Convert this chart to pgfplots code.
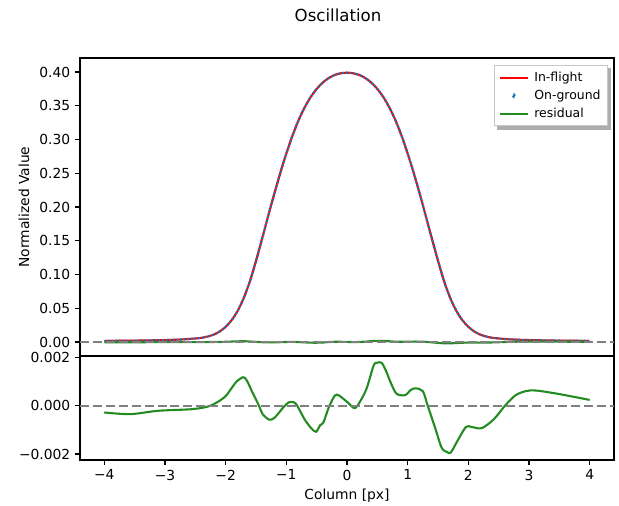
\documentclass[border=0pt]{standalone}
\usepackage{fontspec}
\setmainfont{DejaVu Sans}
\usepackage{pgfplots}
\usepackage{pgfplotstable}
\pgfplotsset{compat=1.18}
\definecolor{mplblue}{HTML}{1F77B4}
\definecolor{fgreen}{HTML}{228B22}
\definecolor{mplred}{HTML}{FF0000}
\pgfdeclarelayer{bg}
\pgfsetlayers{bg,main}

\pgfplotstableread{
x y
-4.0 0.0017
-3.5 0.0021
-3.0 0.0029
-2.8 0.0035
-2.6 0.0045
-2.4 0.0062
-2.3 0.0080
-2.2 0.0108
-2.1 0.0155
-2.0 0.0225
-1.9 0.0325
-1.8 0.0465
-1.7 0.0655
-1.6 0.0901
-1.5 0.1201
-1.4 0.1529
-1.3 0.1862
-1.2 0.2189
-1.1 0.2501
-1.0 0.2791
-0.9 0.3053
-0.8 0.3281
-0.7 0.3471
-0.6 0.3626
-0.5 0.3749
-0.4 0.3843
-0.3 0.3911
-0.2 0.3956
-0.1 0.3981
0.0 0.3989
0.1 0.3981
0.2 0.3956
0.3 0.3911
0.4 0.3843
0.5 0.3749
0.6 0.3626
0.7 0.3471
0.8 0.3281
0.9 0.3053
1.0 0.2791
1.1 0.2501
1.2 0.2189
1.3 0.1862
1.4 0.1529
1.5 0.1201
1.6 0.0901
1.7 0.0655
1.8 0.0465
1.9 0.0325
2.0 0.0225
2.1 0.0155
2.2 0.0108
2.3 0.0080
2.4 0.0062
2.6 0.0045
2.8 0.0035
3.0 0.0029
3.5 0.0021
4.0 0.0017
}\profile

\pgfplotstableread{
x r
-4.00 -0.00028
-3.57 -0.00035
-3.11 -0.00021
-2.54 -0.00014
-2.25 0.00000
-2.02 0.00035
-1.91 0.00070
-1.82 0.00100
-1.71 0.00118
-1.65 0.00104
-1.56 0.00056
-1.45 0.00000
-1.39 -0.00035
-1.28 -0.00058
-1.19 -0.00049
-1.05 -0.00007
-0.96 0.00014
-0.875 0.00014
-0.82 0.00000
-0.70 -0.00056
-0.59 -0.00093
-0.51 -0.00108
-0.44 -0.00080
-0.39 -0.00070
-0.30 -0.00007
-0.20 0.00042
-0.13 0.00042
0.01 0.00014
0.13 -0.00010
0.24 0.00028
0.33 0.00076
0.44 0.00167
0.50 0.00178
0.57 0.00178
0.64 0.00146
0.73 0.00090
0.82 0.00049
0.96 0.00044
1.05 0.00065
1.13 0.00072
1.25 0.00060
1.33 0.00000
1.45 -0.00090
1.56 -0.00174
1.65 -0.00192
1.71 -0.00194
1.82 -0.00146
1.96 -0.00088
2.05 -0.00088
2.22 -0.00093
2.42 -0.00056
2.59 -0.00004
2.77 0.00042
2.94 0.00060
3.11 0.00063
3.48 0.00049
4.00 0.00024
}\resid

\pgfplotsset{
  mplaxis/.style={
    scale only axis,
    anchor=south west,
    width=384.48bp,
    xmin=-4.4, xmax=4.4,
    axis line style={line width=0.8bp},
    tick align=outside,
    tick pos=left,
    major tick length=3.5bp,
    every tick/.style={black, line width=0.8bp},
    tick label style={font=\fontsize{10}{12}\selectfont},
    scaled ticks=false,
    clip=true,
  },
  zeroline/.style={gray, line width=1.5bp, dash pattern=on 6.5bp off 2.8bp, forget plot},
}

\begin{document}
\begin{tikzpicture}
\path[use as bounding box] (0,0) rectangle (445.68bp,364.32bp);
\node[font=\fontsize{12}{14}\selectfont, anchor=center] at (243.4bp,353.5bp) {Oscillation};

\begin{axis}[mplaxis,
  at={(57.6bp,108bp)},
  height=214.56bp,
  ymin=-0.0207, ymax=0.4207,
  xtick=\empty,
  ytick={0,0.05,0.10,0.15,0.20,0.25,0.30,0.35,0.40},
  yticklabels={0.00,0.05,0.10,0.15,0.20,0.25,0.30,0.35,0.40},
  ylabel={Normalized Value},
  ylabel style={at={(axis description cs:-0.105,0.5)}, anchor=center, font=\fontsize{10}{12}\selectfont},
  legend style={name=leg, at={(axis description cs:0.989,0.9765)}, anchor=north east,
    font=\fontsize{9}{10}\selectfont, draw=black!22, line width=0.8bp,
    fill=white, inner xsep=3bp, inner ysep=2.5bp, row sep=0.8bp, column sep=2bp},
  legend cell align=left,
]
\addplot[mplred, line width=1.5bp, smooth,
  legend image code/.code={\draw[mplred, line width=1.5bp] (0bp,0bp) -- (20bp,0bp);}] table[x=x,y=y]{\profile};
\addlegendentry{In-flight}
\addplot[mplblue, line width=1.6bp, smooth, dash pattern=on 1.3bp off 1.3bp,
  legend image code/.code={\fill[mplblue] (10bp,0bp) circle (0.9bp);}] table[x=x,y=y]{\profile};
\addlegendentry{On-ground}
\addplot[fgreen, line width=1.5bp, smooth,
  legend image code/.code={\draw[fgreen, line width=1.5bp] (0bp,0bp) -- (20bp,0bp);}] table[x=x,y=r]{\resid};
\addlegendentry{residual}
\addplot[zeroline] coordinates {(-4.4,0) (4.4,0)};
\end{axis}

\begin{pgfonlayer}{bg}
\fill[black!32] ([xshift=2.2bp,yshift=-2.2bp]leg.south west) rectangle ([xshift=2.2bp,yshift=-2.2bp]leg.north east);
\end{pgfonlayer}

\begin{axis}[mplaxis,
  at={(57.6bp,33.12bp)},
  height=74.88bp,
  ymin=-0.00225, ymax=0.00206,
  xtick={-4,-3,-2,-1,0,1,2,3,4},
  xticklabels={−4,−3,−2,−1,0,1,2,3,4},
  ytick={-0.002,0,0.002},
  yticklabels={−0.002,0.000,0.002},
  xlabel={Column [px]},
  xlabel style={at={(axis description cs:0.5,-0.341)}, anchor=center, font=\fontsize{10}{12}\selectfont},
]
\addplot[fgreen, line width=1.5bp, smooth] table[x=x,y=r]{\resid};
\addplot[zeroline] coordinates {(-4.4,0) (4.4,0)};
\end{axis}
\end{tikzpicture}
\end{document}
